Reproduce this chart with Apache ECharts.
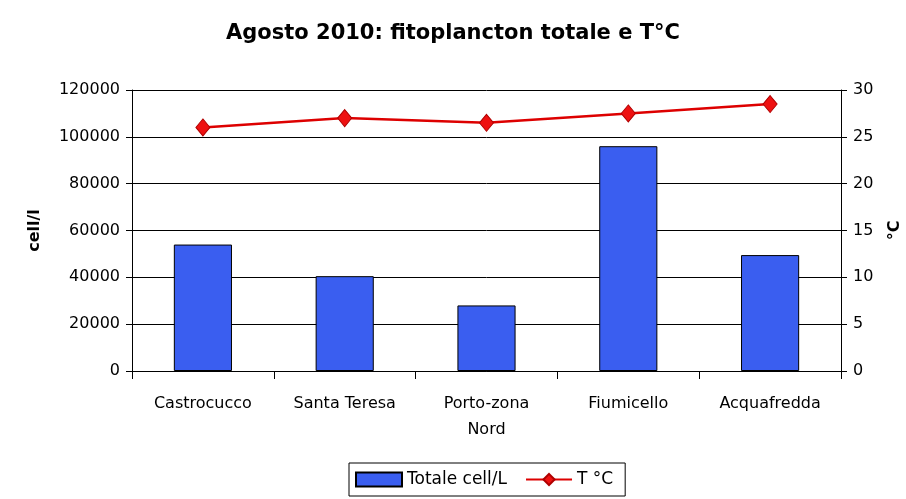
<!DOCTYPE html>
<html>
<head>
<meta charset="utf-8">
<script src="https://cdn.jsdelivr.net/npm/echarts@6/dist/echarts.min.js"></script>
<style>
  html, body { margin: 0; padding: 0; background: #fff; }
  #chart { width: 906px; height: 499px; }
</style>
</head>
<body>
<div id="chart"></div>
<script>
  var categories = ["Castrocucco", "Santa Teresa", "Porto-zona\nNord", "Fiumicello", "Acquafredda"];
  var cellValues = [54000, 40500, 28000, 96000, 49500];
  var tempValues = [26, 27, 26.5, 27.5, 28.5];

  var font = "DejaVu Sans, Verdana, sans-serif";
  var myChart = echarts.init(document.getElementById("chart"));
  var option = {
    backgroundColor: "#fff",
    animation: false,
    title: {
      text: "Agosto 2010: fitoplancton totale e T°C",
      left: "center",
      top: 18,
      textStyle: { fontFamily: font, fontSize: 21, fontWeight: "bold", color: "#000" }
    },
    legend: {
      top: 463,
      left: 349,
      borderColor: "#000",
      borderWidth: 1,
      padding: [8, 12, 8, 6],
      itemGap: 18,
      itemWidth: 46,
      itemHeight: 14,
      textStyle: { fontFamily: font, fontSize: 17, color: "#000" },
      data: [
        { name: "Totale cell/L", icon: "rect" },
        { name: "T °C" }
      ]
    },
    grid: { left: 132, right: 65, top: 90, bottom: 128, outerBoundsMode: "none" },
    xAxis: {
      type: "category",
      data: categories,
      axisLine: { lineStyle: { color: "#000" } },
      axisTick: { show: true, length: 8, lineStyle: { color: "#000" } },
      axisLabel: { fontFamily: font, fontSize: 16, color: "#000", margin: 20, lineHeight: 26 }
    },
    yAxis: [
      {
        type: "value",
        min: 0, max: 120000, interval: 20000,
        name: "cell/l",
        nameLocation: "middle",
        nameRotate: 90,
        nameGap: 89,
        nameTextStyle: { fontFamily: font, fontSize: 16, fontWeight: "bold", color: "#000" },
        axisLine: { show: true, lineStyle: { color: "#000" } },
        axisTick: { show: true, length: 6, lineStyle: { color: "#000" } },
        axisLabel: {
          fontFamily: font, fontSize: 16, color: "#000", margin: 12,
          formatter: function (v) { return String(v); }
        },
        splitLine: { show: true, lineStyle: { color: "#000", width: 1 } }
      },
      {
        type: "value",
        min: 0, max: 30, interval: 5,
        name: "°C",
        nameLocation: "middle",
        nameRotate: 90,
        nameGap: 46,
        nameTextStyle: { fontFamily: font, fontSize: 16, fontWeight: "bold", color: "#000" },
        axisLine: { show: true, lineStyle: { color: "#000" } },
        axisTick: { show: true, length: 6, lineStyle: { color: "#000" } },
        axisLabel: { fontFamily: font, fontSize: 16, color: "#000", margin: 12 },
        splitLine: { show: false }
      }
    ],
    series: [
      {
        name: "Totale cell/L",
        type: "bar",
        yAxisIndex: 0,
        barWidth: "41%",
        itemStyle: { color: "#3a5ef0", borderColor: "#000", borderWidth: 1 },
        data: cellValues
      },
      {
        name: "T °C",
        type: "line",
        yAxisIndex: 1,
        symbol: "diamond",
        symbolSize: [14, 17],
        lineStyle: { color: "#dd0000", width: 2.5 },
        itemStyle: { color: "#ee1111", borderColor: "#b00000", borderWidth: 1 },
        data: tempValues
      }
    ]
  };
  myChart.setOption(option);
</script>
</body>
</html>
